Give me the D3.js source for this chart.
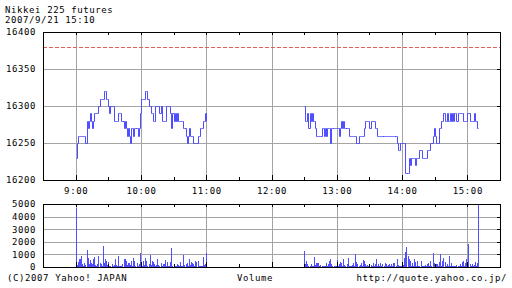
<!DOCTYPE html>
<html>
<head>
<meta charset="utf-8">
<script src="https://cdn.jsdelivr.net/npm/d3@7"></script>
<style>
body { margin: 0; background: #fff; }
svg { display: block; }
svg text { letter-spacing: 0.6px; }
</style>
</head>
<body>
<svg width="512" height="288"></svg>
<script>
var titleLines = ["Nikkei 225 futures", "2007/9/21 15:10"];
var footLeft = "(C)2007 Yahoo! JAPAN", footMid = "Volume", footRight = "http://quote.yahoo.co.jp/";

// times are minutes after 8:30
var hourTicks = [30, 90, 150, 210, 270, 330, 390];
var hourLabels = ["9:00", "10:00", "11:00", "12:00", "13:00", "14:00", "15:00"];
var halfTicks = [60, 120, 180, 240, 300, 360];
var priceTicks = [16200, 16250, 16300, 16350, 16400];
var volumeTicks = [0, 1000, 2000, 3000, 4000, 5000];
var prevClose = 16380;

var amStart = 30;   // 9:00, one value per minute
var amPrice = [
16230,16250,16260,16260,16260,16260,16260,16260,16260,16250,
16280,16270,16280,16290,16280,16270,16280,16290,16290,16290,
16290,16300,16310,16310,16310,16310,16320,16320,16310,16310,
16300,16290,16300,16300,16300,16280,16280,16280,16280,16290,
16290,16290,16280,16280,16270,16280,16270,16260,16270,16260,
16250,16270,16270,16260,16270,16270,16270,16260,16270,16290,
16310,16310,16310,16310,16320,16320,16310,16300,16300,16290,
16290,16280,16280,16300,16300,16300,16300,16290,16300,16280,
16280,16280,16280,16300,16300,16300,16300,16290,16270,16290,
16280,16290,16280,16290,16280,16280,16280,16280,16280,16270,
16270,16260,16250,16260,16270,16260,16260,16260,16250,16250,
16250,16250,16260,16260,16270,16270,16270,16280,16280,16290,
16280];
var amVolume = [
4700,150,400,650,600,850,200,100,350,150,
1350,700,250,550,300,200,650,800,150,80,
200,850,300,250,100,1650,300,650,450,150,
400,80,100,250,60,120,650,150,80,900,
100,100,60,200,600,650,500,150,300,350,
120,450,100,700,500,100,300,80,200,1100,
200,100,450,150,700,450,100,250,950,150,
500,400,200,80,120,600,150,60,300,100,
250,200,550,100,400,100,60,400,1500,100,
200,100,60,250,150,80,400,60,100,950,
120,250,300,100,600,150,400,350,200,80,
500,400,450,60,100,50,60,800,150,200,
1100];

var pmStart = 240;  // 12:30
var pmPrice = [
16300,16280,16280,16290,16270,16290,16280,16290,16280,16280,
16270,16260,16260,16260,16260,16260,16270,16270,16260,16270,
16260,16270,16270,16270,16250,16270,16270,16270,16270,16270,
16270,16270,16260,16270,16280,16270,16280,16270,16270,16270,
16270,16260,16260,16260,16260,16260,16260,16260,16250,16250,
16260,16260,16260,16260,16260,16270,16280,16280,16280,16280,
16270,16280,16280,16280,16280,16270,16270,16260,16260,16260,
16260,16260,16260,16260,16260,16260,16260,16260,16260,16260,
16260,16260,16260,16260,16260,16250,16240,16240,16250,16250,
16250,16250,16250,16210,16210,16210,16230,16220,16230,16230,
16230,16230,16220,16230,16230,16230,16240,16240,16230,16230,
16230,16230,16230,16240,16240,16240,16250,16250,16260,16270,
16260,16250,16250,16250,16270,16270,16280,16280,16290,16280,
16280,16290,16280,16280,16290,16280,16290,16280,16290,16290,
16280,16290,16290,16290,16290,16290,16280,16280,16280,16280,
16290,16290,16280,16280,16280,16280,16290,16280,16280,16270,
16270];
var pmVolume = [
1300,250,450,250,80,100,200,60,100,800,
150,300,350,300,80,150,100,60,50,80,
300,100,250,500,650,200,60,100,100,80,
550,100,200,400,300,80,600,150,60,200,
750,80,100,60,150,300,80,1000,400,200,
60,150,300,80,550,500,250,60,150,100,
50,150,60,300,80,200,650,60,200,80,
300,100,250,60,300,200,80,150,250,60,
200,80,300,300,100,650,150,60,100,100,
50,150,700,1200,1600,900,600,500,100,300,
80,600,400,100,500,80,100,500,60,80,
100,150,60,200,350,80,500,100,1100,350,
60,250,200,80,400,1050,100,500,700,400,
80,200,60,900,100,300,100,60,100,50,
150,60,100,200,80,400,500,100,300,600,
150,1850,200,80,250,100,150,400,100,300,
5000];

var mono = "'DejaVu Sans Mono', monospace";
var fontSize = 9;
var lineColor = "#4f4fff", gridColor = "#a4a4a4";

var svg = d3.select("svg")
.attr("font-family", mono)
.attr("font-size", fontSize);

var left = 43, right = 500;
var top1 = 32, bot1 = 180, top2 = 204, bot2 = 267;

var x = d3.scaleLinear().domain([0, 420]).range([left, right]);
var y = d3.scaleLinear().domain([16200, 16400]).range([bot1, top1]);
var yv = d3.scaleLinear().domain([0, 5000]).range([bot2, top2]);

function toPoints(values, start) {
  return values.map(function(v, i) { return {t: start + i, v: v}; });
}

function tidy(g) {
  g.select(".domain").remove();
  g.attr("font-family", mono).attr("font-size", fontSize);
}

// ---- grids
function grid(topY, botY, yScale, yGrid) {
  svg.append("g")
  .attr("transform", "translate(0," + botY + ")")
  .call(d3.axisBottom(x).tickValues(hourTicks).tickSize(-(botY - topY)).tickFormat(""))
  .call(tidy)
  .selectAll("line").attr("stroke", gridColor).attr("shape-rendering", "crispEdges");

  svg.append("g")
  .attr("transform", "translate(" + left + ",0)")
  .call(d3.axisLeft(yScale).tickValues(yGrid).tickSize(-(right - left)).tickFormat(""))
  .call(tidy)
  .selectAll("line").attr("stroke", gridColor).attr("shape-rendering", "crispEdges");
}
grid(top1, bot1, y, priceTicks.slice(1, -1));
grid(top2, bot2, yv, volumeTicks.slice(1, -1));

// previous close
svg.append("line")
.attr("x1", left).attr("x2", right)
.attr("y1", Math.round(y(prevClose)) + 0.5).attr("y2", Math.round(y(prevClose)) + 0.5)
.attr("stroke", "#e85c5c")
.attr("stroke-dasharray", "4,2");

// price line
var line = d3.line()
.x(function(d) { return Math.round(x(d.t)) + 0.5; })
.y(function(d) { return Math.round(y(d.v)) + 0.5; })
.curve(d3.curveStepAfter);

[toPoints(amPrice, amStart), toPoints(pmPrice, pmStart)].forEach(function(pts) {
  svg.append("path")
  .datum(pts)
  .attr("d", line)
  .attr("fill", "none")
  .attr("stroke", lineColor)
  .attr("stroke-width", 1);
});

// volume bars
svg.append("g")
.selectAll("rect")
.data(toPoints(amVolume, amStart).concat(toPoints(pmVolume, pmStart)))
.enter().append("rect")
.attr("x", function(d) { return Math.round(x(d.t)); })
.attr("y", function(d) { return Math.round(yv(d.v)); })
.attr("width", 1)
.attr("height", function(d) { return bot2 - Math.round(yv(d.v)); })
.attr("fill", lineColor)
.attr("shape-rendering", "crispEdges");

// frames and inner ticks
function frame(topY, botY, yScale, yGrid) {
  svg.append("rect")
  .attr("x", left + 0.5).attr("y", topY + 0.5)
  .attr("width", right - left).attr("height", botY - topY)
  .attr("fill", "none").attr("stroke", "#000");

  var marks = [
    ["translate(0," + topY + ")", d3.axisBottom(x).tickValues(halfTicks).tickSize(3)],
    ["translate(0," + topY + ")", d3.axisBottom(x).tickValues(hourTicks).tickSize(3)],
    ["translate(0," + botY + ")", d3.axisTop(x).tickValues(halfTicks).tickSize(3)],
    ["translate(0," + botY + ")", d3.axisTop(x).tickValues(hourTicks).tickSize(5)],
    ["translate(" + right + ",0)", d3.axisRight(yScale).tickValues(yGrid).tickSize(-3)]
  ];
  marks.forEach(function(m) {
    svg.append("g")
    .attr("transform", m[0])
    .call(m[1].tickFormat(""))
    .call(tidy)
    .selectAll("line").attr("stroke", "#000").attr("shape-rendering", "crispEdges");
  });
}
frame(top1, bot1, y, priceTicks.slice(1, -1));
frame(top2, bot2, yv, volumeTicks.slice(1, -1));

// tick labels
svg.append("g")
.attr("transform", "translate(" + left + ",0)")
.call(d3.axisLeft(y).tickValues(priceTicks).tickSize(0).tickPadding(7).tickFormat(d3.format("d")))
.call(tidy);

svg.append("g")
.attr("transform", "translate(" + left + ",0)")
.call(d3.axisLeft(yv).tickValues(volumeTicks).tickSize(0).tickPadding(7).tickFormat(d3.format("d")))
.call(tidy);

svg.append("g")
.attr("transform", "translate(0," + bot1 + ")")
.call(d3.axisBottom(x).tickValues(hourTicks).tickSize(0).tickPadding(8)
  .tickFormat(function(d, i) { return hourLabels[i]; }))
.call(tidy);

// title (two lines) and footer
svg.append("g")
.selectAll("text")
.data(titleLines)
.enter().append("text")
.attr("x", 5)
.attr("y", function(d, i) { return 12.5 + i * 10.5; })
.text(function(d) { return d; });

svg.append("text").attr("x", 7).attr("y", 281).text(footLeft);
svg.append("text").attr("x", 237).attr("y", 281).text(footMid);
svg.append("text").attr("x", 507).attr("y", 281).attr("text-anchor", "end").text(footRight);
</script>
</body>
</html>
